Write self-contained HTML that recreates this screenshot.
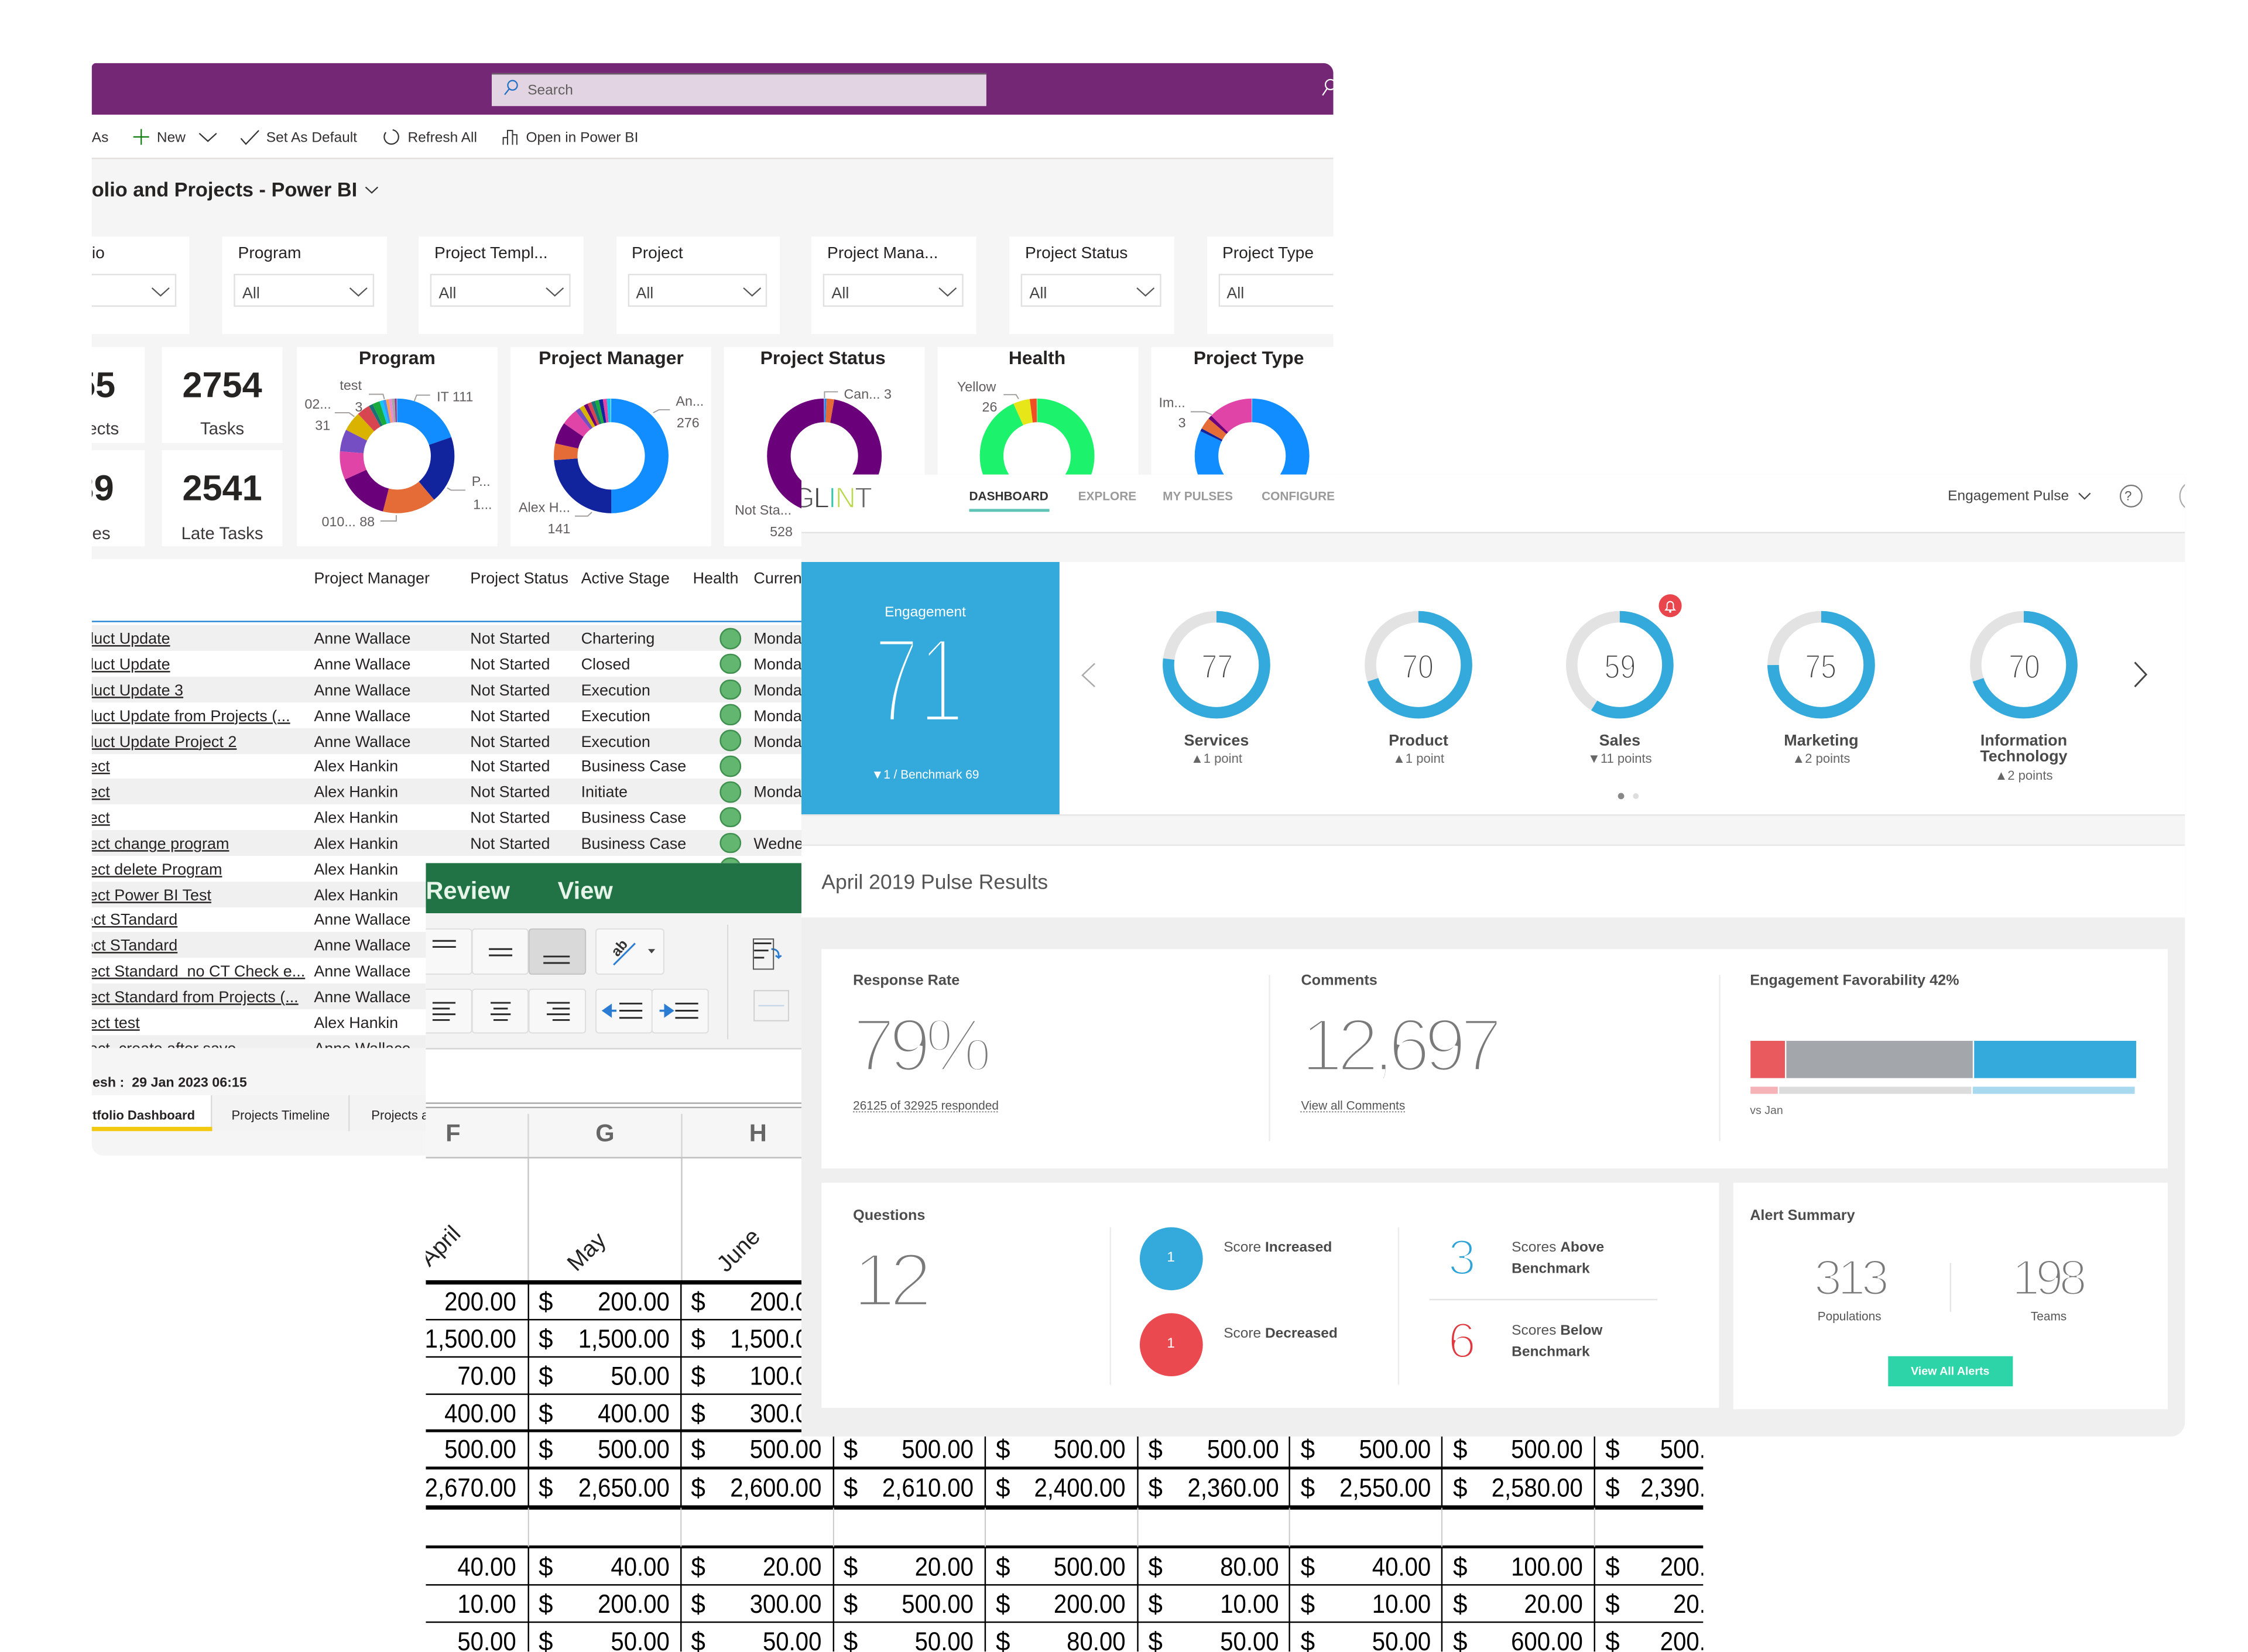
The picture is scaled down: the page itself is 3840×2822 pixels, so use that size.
<!DOCTYPE html>
<html><head><meta charset="utf-8">
<style>
html,body{margin:0;padding:0;background:#fff;}
body{width:3840px;height:2820px;overflow:hidden;position:relative;font-family:"Liberation Sans",Arial,sans-serif;}
#c{position:absolute;left:0;top:0;width:1568px;height:1152px;transform:scale(2.44898);transform-origin:0 0;}
.a{position:absolute;}
.t{position:absolute;white-space:nowrap;line-height:1;}
.d{margin-top:.15em}
svg.o{position:absolute;left:0;top:0;overflow:visible}
.card{position:absolute;background:#fff;}
.sl{position:absolute;top:169.9px;font-size:11.5px;color:#252423;white-space:nowrap;line-height:1;margin-top:.15em}
.dd{position:absolute;top:191px;width:97.5px;height:23px;border:1px solid #e1e1e1;box-sizing:border-box;background:#fff}
.all{position:absolute;top:198.2px;font-size:11px;color:#444;line-height:1;margin-top:.15em}
.dt{position:absolute;top:242.5px;width:140px;text-align:center;font-size:13px;font-weight:bold;color:#252423;line-height:1;white-space:nowrap}
.lb{position:absolute;font-size:9.5px;color:#605e5c;line-height:1;white-space:nowrap;margin-top:.1em}
.tr{position:absolute;left:0;width:1568px;height:17.83px;font-size:11px;color:#252423;line-height:1}
.tr span{position:absolute;top:4.9px;white-space:nowrap}
.tr span.u{text-decoration:underline}
.tr span.h{top:1.6px;width:14.6px;height:14.6px;border-radius:50%;background:#62b66f;border:0.8px solid #3f8f4f;box-sizing:border-box}
.xr{position:absolute;left:262px;height:18px;display:flex;font-size:18px;line-height:1;color:#000;white-space:nowrap}
.xr i{font-style:normal;position:relative;width:106.3px;flex:none;text-align:right;padding-right:8px;box-sizing:border-box}
.xr i.l{padding-right:11px}
.xr i b{font-weight:normal;position:absolute;left:7.4px;top:0}
.xr i em{font-style:normal;display:inline-block;transform:scaleX(.91);transform-origin:100% 50%}
.nav{position:absolute;top:341.8px;font-size:8.5px;font-weight:bold;color:#9a9a9a;line-height:1;white-space:nowrap}
.rn{position:absolute;top:454px;width:60px;text-align:center;font-size:23.3px;color:#444;line-height:1;transform:scaleX(.85);-webkit-text-stroke:1px #fff}
.rl{position:absolute;width:100px;text-align:center;line-height:1;white-space:nowrap;margin-top:.15em}
.gl{position:absolute;font-size:10.3px;font-weight:bold;color:#4d4d4d;line-height:1;white-space:nowrap;margin-top:.15em}
.big{position:absolute;font-size:52.4px;color:#7a7a7a;line-height:1;letter-spacing:-4px;white-space:nowrap;-webkit-text-stroke:2.6px #fff}
.sm{position:absolute;font-size:10px;color:#555;line-height:1;white-space:nowrap;margin-top:.15em}
.sm b{color:#4a4a4a}
</style></head><body><div id="c">

<!-- ================= POWER BI ================= -->
<div class="a" style="left:64px;top:44px;width:866px;height:762px;overflow:hidden;background:#f5f5f5;border-radius:3px 7px 0 8px;">
<div class="a" style="left:-64px;top:-44px;width:1568px;height:1152px;">
  <div class="a" style="left:64px;top:44px;width:866px;height:36px;background:#742774"></div>
  <div class="a" style="left:343px;top:51px;width:345px;height:22.5px;background:#e2d4e2;border-top:1px solid #6a5a6a;box-sizing:border-box"></div>
  <div class="t d" style="left:368px;top:57px;font-size:10px;color:#605e5c">Search</div>
  <div class="a" style="left:64px;top:80px;width:866px;height:31px;background:#fff;border-bottom:1px solid #e1dfdd;box-sizing:border-box"></div>
  <div class="t d" style="left:64px;top:90.7px;font-size:10px;color:#323130">As</div>
  <div class="t d" style="left:109.4px;top:90.7px;font-size:10px;color:#323130">New</div>
  <div class="t d" style="left:185.7px;top:90.7px;font-size:10px;color:#323130">Set As Default</div>
  <div class="t d" style="left:284.4px;top:90.7px;font-size:10px;color:#323130">Refresh All</div>
  <div class="t d" style="left:366.9px;top:90.7px;font-size:10px;color:#323130">Open in Power BI</div>
  <div class="t" style="left:64px;top:125px;font-size:14px;font-weight:bold;color:#252423">olio and Projects - Power BI</div>

  <!-- slicers -->
  <div class="card" style="left:17px;top:165px;width:114.5px;height:68px"></div>
  <div class="card" style="left:155px;top:165px;width:114.5px;height:68px"></div>
  <div class="card" style="left:292px;top:165px;width:114.5px;height:68px"></div>
  <div class="card" style="left:429.6px;top:165px;width:114.5px;height:68px"></div>
  <div class="card" style="left:566px;top:165px;width:114.5px;height:68px"></div>
  <div class="card" style="left:704px;top:165px;width:114.5px;height:68px"></div>
  <div class="card" style="left:841.6px;top:165px;width:114.5px;height:68px"></div>
  <div class="sl" style="left:30.8px">Portfolio</div>
  <div class="sl" style="left:166px">Program</div>
  <div class="sl" style="left:303px">Project Templ...</div>
  <div class="sl" style="left:440.6px">Project</div>
  <div class="sl" style="left:577px">Project Mana...</div>
  <div class="sl" style="left:715px">Project Status</div>
  <div class="sl" style="left:852.6px">Project Type</div>
  <div class="dd" style="left:25px"></div>
  <div class="dd" style="left:163px"></div>
  <div class="dd" style="left:300px"></div>
  <div class="dd" style="left:437.6px"></div>
  <div class="dd" style="left:574px"></div>
  <div class="dd" style="left:712px"></div>
  <div class="dd" style="left:849.6px"></div>
  <div class="all" style="left:169px">All</div>
  <div class="all" style="left:306px">All</div>
  <div class="all" style="left:443.6px">All</div>
  <div class="all" style="left:580px">All</div>
  <div class="all" style="left:718px">All</div>
  <div class="all" style="left:855.6px">All</div>

  <!-- KPI cards -->
  <div class="card" style="left:17.8px;top:241.6px;width:83.2px;height:67.4px"></div>
  <div class="card" style="left:17.8px;top:314px;width:83.2px;height:67.4px"></div>
  <div class="card" style="left:113.4px;top:241.6px;width:83.2px;height:67.4px"></div>
  <div class="card" style="left:113.4px;top:314px;width:83.2px;height:67.4px"></div>
  <div class="t" style="left:0;width:80.5px;text-align:right;top:256.5px;font-size:25px;font-weight:bold;color:#252423">55</div>
  <div class="t d" style="left:0;width:83px;text-align:right;top:291.4px;font-size:12px;color:#3b3a39">Projects</div>
  <div class="t" style="left:0;width:79.5px;text-align:right;top:328.5px;font-size:25px;font-weight:bold;color:#252423">39</div>
  <div class="t d" style="left:0;width:77px;text-align:right;top:364.2px;font-size:12px;color:#3b3a39">Milestones</div>
  <div class="t" style="left:113.4px;width:83.2px;text-align:center;top:256.5px;font-size:25px;font-weight:bold;color:#252423">2754</div>
  <div class="t d" style="left:113.4px;width:83.2px;text-align:center;top:291.4px;font-size:12px;color:#3b3a39">Tasks</div>
  <div class="t" style="left:113.4px;width:83.2px;text-align:center;top:328.5px;font-size:25px;font-weight:bold;color:#252423">2541</div>
  <div class="t d" style="left:113.4px;width:83.2px;text-align:center;top:364.2px;font-size:12px;color:#3b3a39">Late Tasks</div>

  <!-- donut cards -->
  <div class="card" style="left:207.2px;top:241.6px;width:140px;height:139.8px"></div>
  <div class="card" style="left:356px;top:241.6px;width:140px;height:139.8px"></div>
  <div class="card" style="left:504.8px;top:241.6px;width:140px;height:139.8px"></div>
  <div class="card" style="left:654.2px;top:241.6px;width:140px;height:139.8px"></div>
  <div class="card" style="left:803px;top:241.6px;width:140px;height:139.8px"></div>
  <div class="dt" style="left:207px">Program</div>
  <div class="dt" style="left:356.3px">Project Manager</div>
  <div class="dt" style="left:504px">Project Status</div>
  <div class="dt" style="left:653.4px">Health</div>
  <div class="dt" style="left:801px">Project Type</div>

  <div class="lb" style="left:237px;top:263.8px">test</div>
  <div class="lb" style="left:247.6px;top:278.8px">3</div>
  <div class="lb" style="left:212.5px;top:277.4px">02...</div>
  <div class="lb" style="left:219.8px;top:291.7px">31</div>
  <div class="lb" style="left:304.7px;top:272px">IT 111</div>
  <div class="lb" style="left:329px;top:331px">P...</div>
  <div class="lb" style="left:330px;top:346.8px">1...</div>
  <div class="lb" style="left:224.4px;top:359.1px">010... 88</div>
  <div class="lb" style="left:471.4px;top:275.4px">An...</div>
  <div class="lb" style="left:472px;top:289.7px">276</div>
  <div class="lb" style="left:361.8px;top:348.9px">Alex H...</div>
  <div class="lb" style="left:382px;top:364.5px">141</div>
  <div class="lb" style="left:588.6px;top:270px">Can... 3</div>
  <div class="lb" style="left:512.5px;top:351px">Not Sta...</div>
  <div class="lb" style="left:537px;top:365.9px">528</div>
  <div class="lb" style="left:667.6px;top:265.2px">Yellow</div>
  <div class="lb" style="left:685px;top:279.5px">26</div>
  <div class="lb" style="left:808.3px;top:276px">Im...</div>
  <div class="lb" style="left:821.8px;top:290.4px">3</div>

  <svg class="o" width="1568" height="1152" viewBox="0 0 1568 1152">
    <g fill="none" stroke-width="0.9">
      <circle cx="357.5" cy="59.5" r="3.3" stroke="#1f6fc5"/><line x1="355.2" y1="62" x2="352" y2="66" stroke="#1f6fc5"/>
      <circle cx="928" cy="59" r="3.5" stroke="#fff"/><line x1="925.5" y1="62" x2="922.5" y2="66.5" stroke="#fff"/>
      <line x1="98.5" y1="90" x2="98.5" y2="101" stroke="#107c10"/><line x1="93" y1="95.5" x2="104" y2="95.5" stroke="#107c10"/>
      <polyline points="139,93 145,98.5 151,93" stroke="#333"/>
      <polyline points="168,96.5 171.5,100.5 180.5,91" stroke="#333"/>
      <circle cx="273" cy="95.5" r="5" stroke="#333" stroke-dasharray="26 5.4" transform="rotate(-80 273 95.5)"/>
      <path d="M351,101 v-5 h3 v5 M354,101 v-10 h3.5 v10 M357.5,101 v-7 h3 v7" stroke="#333" stroke-width="0.8"/>
      <polyline points="255,130.5 259.3,134.5 263.5,130.5" stroke="#333"/>
      <g stroke="#555">
        <polyline points="106,200.8 112,206.3 118,200.8"/>
        <polyline points="244,200.8 250,206.3 256,200.8"/>
        <polyline points="381,200.8 387,206.3 393,200.8"/>
        <polyline points="518.6,200.8 524.6,206.3 530.6,200.8"/>
        <polyline points="655,200.8 661,206.3 667,200.8"/>
        <polyline points="793,200.8 799,206.3 805,200.8"/>
      </g>
      <g stroke="#a19f9d" stroke-width="0.8">
        <polyline points="257.3,275 267.2,275 268.1,278.4"/>
        <polyline points="289,279.7 290.6,275.6 300,275.6"/>
        <polyline points="233.5,287.9 243.5,287.9 247.2,290.6"/>
        <polyline points="311.9,340.3 314.6,341.9 324.6,341.9"/>
        <polyline points="265.4,363.4 276.4,363.4 276.4,359.3"/>
        <polyline points="455.6,287.9 459.7,285.8 467.3,285.8"/>
        <polyline points="401,360 409.9,360 412.8,357.3"/>
        <polyline points="575.1,277.7 575.1,273.3 584.5,273.3"/>
        <polyline points="700,275.3 708.7,275.3 710.5,278.3"/>
        <polyline points="830.5,287.2 840.6,287.2 845.2,289.2"/>
      </g>
    </g>
    <!-- Program donut -->
    <g fill="none" stroke-width="16.5" transform="rotate(-90 277 318)">
      <circle cx="277" cy="318" r="31.75" pathLength="360" stroke="#118dff" stroke-dasharray="71 400" stroke-dashoffset="0"/>
      <circle cx="277" cy="318" r="31.75" pathLength="360" stroke="#12239e" stroke-dasharray="69 400" stroke-dashoffset="-71"/>
      <circle cx="277" cy="318" r="31.75" pathLength="360" stroke="#e66c37" stroke-dasharray="54.6 400" stroke-dashoffset="-140"/>
      <circle cx="277" cy="318" r="31.75" pathLength="360" stroke="#6b007b" stroke-dasharray="51.4 400" stroke-dashoffset="-194.6"/>
      <circle cx="277" cy="318" r="31.75" pathLength="360" stroke="#e044a7" stroke-dasharray="29 400" stroke-dashoffset="-246"/>
      <circle cx="277" cy="318" r="31.75" pathLength="360" stroke="#744ec2" stroke-dasharray="22.4 400" stroke-dashoffset="-275"/>
      <circle cx="277" cy="318" r="31.75" pathLength="360" stroke="#d9b300" stroke-dasharray="20.1 400" stroke-dashoffset="-297.4"/>
      <circle cx="277" cy="318" r="31.75" pathLength="360" stroke="#d64550" stroke-dasharray="13.5 400" stroke-dashoffset="-317.5"/>
      <circle cx="277" cy="318" r="31.75" pathLength="360" stroke="#197278" stroke-dasharray="4 400" stroke-dashoffset="-331"/>
      <circle cx="277" cy="318" r="31.75" pathLength="360" stroke="#1aab40" stroke-dasharray="7.5 400" stroke-dashoffset="-335"/>
      <circle cx="277" cy="318" r="31.75" pathLength="360" stroke="#15c6f4" stroke-dasharray="3.5 400" stroke-dashoffset="-342.5"/>
      <circle cx="277" cy="318" r="31.75" pathLength="360" stroke="#4092ff" stroke-dasharray="3 400" stroke-dashoffset="-346"/>
      <circle cx="277" cy="318" r="31.75" pathLength="360" stroke="#ffa058" stroke-dasharray="3 400" stroke-dashoffset="-349"/>
      <circle cx="277" cy="318" r="31.75" pathLength="360" stroke="#e88fd4" stroke-dasharray="3 400" stroke-dashoffset="-352"/>
      <circle cx="277" cy="318" r="31.75" pathLength="360" stroke="#a6a6a6" stroke-dasharray="3 400" stroke-dashoffset="-355"/>
      <circle cx="277" cy="318" r="31.75" pathLength="360" stroke="#8b3a8b" stroke-dasharray="2 400" stroke-dashoffset="-358"/>
    </g>
    <!-- PM donut -->
    <g fill="none" stroke-width="16.5" transform="rotate(-90 426.3 318)">
      <circle cx="426.3" cy="318" r="31.75" pathLength="360" stroke="#118dff" stroke-dasharray="180 400" stroke-dashoffset="0"/>
      <circle cx="426.3" cy="318" r="31.75" pathLength="360" stroke="#12239e" stroke-dasharray="86 400" stroke-dashoffset="-180"/>
      <circle cx="426.3" cy="318" r="31.75" pathLength="360" stroke="#e66c37" stroke-dasharray="17 400" stroke-dashoffset="-266"/>
      <circle cx="426.3" cy="318" r="31.75" pathLength="360" stroke="#6b007b" stroke-dasharray="22 400" stroke-dashoffset="-283"/>
      <circle cx="426.3" cy="318" r="31.75" pathLength="360" stroke="#e044a7" stroke-dasharray="17 400" stroke-dashoffset="-305"/>
      <circle cx="426.3" cy="318" r="31.75" pathLength="360" stroke="#744ec2" stroke-dasharray="5 400" stroke-dashoffset="-322"/>
      <circle cx="426.3" cy="318" r="31.75" pathLength="360" stroke="#d9b300" stroke-dasharray="5 400" stroke-dashoffset="-327"/>
      <circle cx="426.3" cy="318" r="31.75" pathLength="360" stroke="#6b007b" stroke-dasharray="4 400" stroke-dashoffset="-332"/>
      <circle cx="426.3" cy="318" r="31.75" pathLength="360" stroke="#d64550" stroke-dasharray="4 400" stroke-dashoffset="-336"/>
      <circle cx="426.3" cy="318" r="31.75" pathLength="360" stroke="#197278" stroke-dasharray="4 400" stroke-dashoffset="-340"/>
      <circle cx="426.3" cy="318" r="31.75" pathLength="360" stroke="#1aab40" stroke-dasharray="4 400" stroke-dashoffset="-344"/>
      <circle cx="426.3" cy="318" r="31.75" pathLength="360" stroke="#12239e" stroke-dasharray="4 400" stroke-dashoffset="-348"/>
      <circle cx="426.3" cy="318" r="31.75" pathLength="360" stroke="#e044a7" stroke-dasharray="4 400" stroke-dashoffset="-352"/>
      <circle cx="426.3" cy="318" r="31.75" pathLength="360" stroke="#15c6f4" stroke-dasharray="4 400" stroke-dashoffset="-356"/>
    </g>
    <!-- PS donut -->
    <g fill="none" stroke-width="16.5" transform="rotate(-90 575 318)">
      <circle cx="575" cy="318" r="31.75" pathLength="360" stroke="#6b007b" stroke-dasharray="350 400" stroke-dashoffset="-10"/>
      <circle cx="575" cy="318" r="31.75" pathLength="360" stroke="#118dff" stroke-dasharray="2 400" stroke-dashoffset="0"/>
      <circle cx="575" cy="318" r="31.75" pathLength="360" stroke="#e66c37" stroke-dasharray="8 400" stroke-dashoffset="-2"/>
    </g>
    <!-- Health donut -->
    <g fill="none" stroke-width="16.5" transform="rotate(-90 723.4 318)">
      <circle cx="723.4" cy="318" r="31.75" pathLength="360" stroke="#1df26c" stroke-dasharray="336 400" stroke-dashoffset="0"/>
      <circle cx="723.4" cy="318" r="31.75" pathLength="360" stroke="#e6e619" stroke-dasharray="17 400" stroke-dashoffset="-336"/>
      <circle cx="723.4" cy="318" r="31.75" pathLength="360" stroke="#f04e23" stroke-dasharray="7 400" stroke-dashoffset="-353"/>
    </g>
    <!-- PT donut -->
    <g fill="none" stroke-width="16.5" transform="rotate(-90 873.3 318)">
      <circle cx="873.3" cy="318" r="31.75" pathLength="360" stroke="#118dff" stroke-dasharray="296 400" stroke-dashoffset="0"/>
      <circle cx="873.3" cy="318" r="31.75" pathLength="360" stroke="#12239e" stroke-dasharray="3 400" stroke-dashoffset="-296"/>
      <circle cx="873.3" cy="318" r="31.75" pathLength="360" stroke="#e66c37" stroke-dasharray="12 400" stroke-dashoffset="-299"/>
      <circle cx="873.3" cy="318" r="31.75" pathLength="360" stroke="#6b007b" stroke-dasharray="4 400" stroke-dashoffset="-311"/>
      <circle cx="873.3" cy="318" r="31.75" pathLength="360" stroke="#e044a7" stroke-dasharray="45 400" stroke-dashoffset="-315"/>
    </g>
  </svg>

  <!-- table -->
  <div class="a" style="left:64px;top:390px;width:495.4px;height:341px;overflow:hidden;background:#fff">
  <div class="a" style="left:-64px;top:-390px;width:1568px;height:1152px">
    <div class="t" style="left:219px;top:399.4px;font-size:11px;color:#252423">Project Manager</div>
    <div class="t" style="left:328px;top:399.4px;font-size:11px;color:#252423">Project Status</div>
    <div class="t" style="left:405.3px;top:399.4px;font-size:11px;color:#252423">Active Stage</div>
    <div class="t" style="left:483.3px;top:399.4px;font-size:11px;color:#252423">Health</div>
    <div class="t" style="left:525.7px;top:399.4px;font-size:11px;color:#252423">Current</div>
    <div class="a" style="left:64px;top:432.9px;width:500px;height:1.5px;background:#2b88d8"></div>

    <div class="tr" style="top:436.4px;background:#f0f0f0"><span class="u" style="left:63px">luct Update</span><span style="left:219px">Anne Wallace</span><span style="left:328px">Not Started</span><span style="left:405.3px">Chartering</span><span class="h" style="left:502.1px"></span><span style="left:525.7px">Monday</span></div>
    <div class="tr" style="top:454.2px"><span class="u" style="left:63px">luct Update</span><span style="left:219px">Anne Wallace</span><span style="left:328px">Not Started</span><span style="left:405.3px">Closed</span><span class="h" style="left:502.1px"></span><span style="left:525.7px">Monday</span></div>
    <div class="tr" style="top:472.1px;background:#f0f0f0"><span class="u" style="left:63px">luct Update 3</span><span style="left:219px">Anne Wallace</span><span style="left:328px">Not Started</span><span style="left:405.3px">Execution</span><span class="h" style="left:502.1px"></span><span style="left:525.7px">Monday</span></div>
    <div class="tr" style="top:489.9px"><span class="u" style="left:63px">luct Update from Projects (...</span><span style="left:219px">Anne Wallace</span><span style="left:328px">Not Started</span><span style="left:405.3px">Execution</span><span class="h" style="left:502.1px"></span><span style="left:525.7px">Monday</span></div>
    <div class="tr" style="top:507.7px;background:#f0f0f0"><span class="u" style="left:63px">luct Update Project 2</span><span style="left:219px">Anne Wallace</span><span style="left:328px">Not Started</span><span style="left:405.3px">Execution</span><span class="h" style="left:502.1px"></span><span style="left:525.7px">Monday</span></div>
    <div class="tr" style="top:525.6px"><span class="u" style="left:62px">ect</span><span style="left:219px">Alex Hankin</span><span style="left:328px">Not Started</span><span style="left:405.3px">Business Case</span><span class="h" style="left:502.1px"></span></div>
    <div class="tr" style="top:543.4px;background:#f0f0f0"><span class="u" style="left:62px">ect</span><span style="left:219px">Alex Hankin</span><span style="left:328px">Not Started</span><span style="left:405.3px">Initiate</span><span class="h" style="left:502.1px"></span><span style="left:525.7px">Monday</span></div>
    <div class="tr" style="top:561.2px"><span class="u" style="left:62px">ect</span><span style="left:219px">Alex Hankin</span><span style="left:328px">Not Started</span><span style="left:405.3px">Business Case</span><span class="h" style="left:502.1px"></span></div>
    <div class="tr" style="top:579px;background:#f0f0f0"><span class="u" style="left:62px">ect change program</span><span style="left:219px">Alex Hankin</span><span style="left:328px">Not Started</span><span style="left:405.3px">Business Case</span><span class="h" style="left:502.1px"></span><span style="left:525.7px">Wednesday</span></div>
    <div class="tr" style="top:596.9px"><span class="u" style="left:62px">ect delete Program</span><span style="left:219px">Alex Hankin</span><span style="left:328px">Not Started</span><span style="left:405.3px">Business Case</span><span class="h" style="left:502.1px"></span></div>
    <div class="tr" style="top:614.7px;background:#f0f0f0"><span class="u" style="left:62px">ect Power BI Test</span><span style="left:219px">Alex Hankin</span></div>
    <div class="tr" style="top:632.5px"><span class="u" style="left:59px">ect STandard</span><span style="left:219px">Anne Wallace</span></div>
    <div class="tr" style="top:650.4px;background:#f0f0f0"><span class="u" style="left:59px">ect STandard</span><span style="left:219px">Anne Wallace</span></div>
    <div class="tr" style="top:668.2px"><span class="u" style="left:62px">ect Standard&nbsp; no CT Check e...</span><span style="left:219px">Anne Wallace</span></div>
    <div class="tr" style="top:686px;background:#f0f0f0"><span class="u" style="left:62px">ect Standard from Projects (...</span><span style="left:219px">Anne Wallace</span></div>
    <div class="tr" style="top:703.9px"><span class="u" style="left:62px">ect test</span><span style="left:219px">Alex Hankin</span></div>
    <div class="tr" style="top:721.7px;background:#f0f0f0"><span class="u" style="left:62px">ect&nbsp; create after save</span><span style="left:219px">Anne Wallace</span></div>
  </div></div>

  <div class="t d" style="left:64.5px;top:749.8px;font-size:9.5px;font-weight:bold;color:#252423">esh :&nbsp; 29 Jan 2023 06:15</div>
  <div class="a" style="left:64px;top:763.8px;width:83.5px;height:25.2px;background:#fff;border-right:1px solid #dcdcdc;box-sizing:border-box"></div>
  <div class="a" style="left:147.5px;top:763.8px;width:96.5px;height:25.2px;background:#f3f3f3;border-right:1px solid #dcdcdc;box-sizing:border-box"></div>
  <div class="a" style="left:244px;top:763.8px;width:80px;height:25.2px;background:#f3f3f3"></div>
  <div class="a" style="left:64px;top:786px;width:83.5px;height:3px;background:#f2c811"></div>
  <div class="t d" style="left:64.5px;top:772.5px;font-size:9px;font-weight:bold;color:#252423">tfolio Dashboard</div>
  <div class="t d" style="left:147.5px;width:96.5px;text-align:center;top:772.5px;font-size:9px;color:#252423">Projects Timeline</div>
  <div class="t d" style="left:259px;top:772.5px;font-size:9px;color:#252423">Projects and Tasks</div>
</div></div>

<!-- ================= EXCEL ================= -->
<div class="a" style="left:297px;top:601.5px;width:891px;height:551px;overflow:hidden;background:#fff">
<div class="a" style="left:-297px;top:-601.5px;width:1568px;height:1152px">
  <div class="a" style="left:297px;top:601.5px;width:891px;height:35.5px;background:#217346"></div>
  <div class="t" style="left:297px;top:613.2px;font-size:17px;font-weight:bold;color:#e6f4ea">Review</div>
  <div class="t" style="left:389px;top:613.2px;font-size:17px;font-weight:bold;color:#e6f4ea">View</div>
  <div class="a" style="left:297px;top:637px;width:891px;height:95px;background:#f3f3f3;border-bottom:1px solid #d4d4d4;box-sizing:border-box"></div>
  <div class="a" style="left:297px;top:769px;width:891px;height:1px;background:#a8a8a8"></div>
  <div class="a" style="left:297px;top:771.5px;width:891px;height:1px;background:#a8a8a8"></div>
  <div class="a" style="left:297px;top:773px;width:891px;height:33.5px;background:#f6f6f6"></div>
  <div class="a" style="left:297px;top:806.5px;width:891px;height:1.2px;background:#bdbdbd"></div>
  <div class="a" style="left:368.3px;top:777px;width:1px;height:30px;background:#d6d6d6"></div>
  <div class="a" style="left:474.5px;top:777px;width:1px;height:30px;background:#d6d6d6"></div>
  <div class="t" style="left:266px;width:100px;text-align:center;top:782.2px;font-size:17px;font-weight:bold;color:#666">F</div>
  <div class="t" style="left:372px;width:100px;text-align:center;top:782.2px;font-size:17px;font-weight:bold;color:#666">G</div>
  <div class="t" style="left:478.7px;width:100px;text-align:center;top:782.2px;font-size:17px;font-weight:bold;color:#666">H</div>
  <div class="a" style="left:368.3px;top:808px;width:1px;height:86px;background:#c8c8c8"></div>
  <div class="a" style="left:474.5px;top:808px;width:1px;height:86px;background:#c8c8c8"></div>
  <div class="t" style="left:308px;top:870px;font-size:16px;color:#222;transform:translate(-50%,-50%) rotate(-45deg)">April</div>
  <div class="t" style="left:410px;top:873.7px;font-size:16px;color:#222;transform:translate(-50%,-50%) rotate(-45deg)">May</div>
  <div class="t" style="left:516.3px;top:873px;font-size:16px;color:#222;transform:translate(-50%,-50%) rotate(-45deg)">June</div>

  <svg class="o" width="1568" height="1152" viewBox="0 0 1568 1152">
    <g fill="#f8f8f8" stroke="#dedede" stroke-width="0.8">
      <rect x="290" y="648" width="39" height="31.5" rx="2"/>
      <rect x="329.4" y="648" width="38.9" height="31.5" rx="2"/>
      <rect x="369" y="648" width="39.4" height="31.5" rx="2" fill="#d9d9d9" stroke="#c4c4c4"/>
      <rect x="415.7" y="648" width="47.3" height="31.5" rx="2"/>
      <rect x="290" y="690" width="39" height="30.5" rx="2"/>
      <rect x="329.4" y="690" width="38.9" height="30.5" rx="2"/>
      <rect x="369" y="690" width="39.4" height="30.5" rx="2"/>
      <rect x="415.7" y="690" width="39.1" height="30.5" rx="2"/>
      <rect x="454.8" y="690" width="39.2" height="30.5" rx="2"/>
    </g>
    <g stroke="#2a2a2a" stroke-width="1.2">
      <line x1="301.7" y1="656.3" x2="318" y2="656.3"/><line x1="301.7" y1="660.5" x2="318" y2="660.5"/>
      <line x1="341" y1="662" x2="357.3" y2="662"/><line x1="341" y1="666.4" x2="357.3" y2="666.4"/>
      <line x1="379" y1="667.2" x2="397.4" y2="667.2"/><line x1="379" y1="671.7" x2="397.4" y2="671.7"/>
      <line x1="301.7" y1="699.5" x2="317.7" y2="699.5"/><line x1="301.7" y1="703.5" x2="313.7" y2="703.5"/><line x1="301.7" y1="707.5" x2="317.7" y2="707.5"/><line x1="301.7" y1="711.5" x2="313.7" y2="711.5"/>
      <line x1="342.2" y1="699.5" x2="356.2" y2="699.5"/><line x1="344.2" y1="703.5" x2="354.2" y2="703.5"/><line x1="342.2" y1="707.5" x2="356.2" y2="707.5"/><line x1="344.2" y1="711.5" x2="354.2" y2="711.5"/>
      <line x1="381.4" y1="699.5" x2="397.4" y2="699.5"/><line x1="385.4" y1="703.5" x2="397.4" y2="703.5"/><line x1="381.4" y1="707.5" x2="397.4" y2="707.5"/><line x1="385.4" y1="711.5" x2="397.4" y2="711.5"/>
      <line x1="432" y1="700" x2="448" y2="700"/><line x1="432" y1="705" x2="448" y2="705"/><line x1="432" y1="710" x2="448" y2="710"/>
      <line x1="471" y1="700" x2="487" y2="700"/><line x1="471" y1="705" x2="487" y2="705"/><line x1="471" y1="710" x2="487" y2="710"/>
      <line x1="526" y1="658" x2="538" y2="658"/><line x1="526" y1="663" x2="536" y2="663"/><line x1="526" y1="668" x2="533" y2="668"/>
    </g>
    <path d="M421,705 l5,-3.5 v7 z M426,705 h4" stroke="#2b7cd3" fill="#2b7cd3" stroke-width="1.5"/>
    <path d="M469,705 l-5,-3.5 v7 z M464,705 h-4" stroke="#2b7cd3" fill="#2b7cd3" stroke-width="1.5"/>
    <line x1="428" y1="673" x2="443" y2="658" stroke="#2b7cd3" stroke-width="1.2"/>
    <path d="M452,662 h5 l-2.5,3 z" fill="#444"/>
    <path d="M538,662 q6,0 5,6 l-2,-1.5 M543,668 l2,-1.5" stroke="#2b7cd3" fill="none" stroke-width="1.2"/>
    <rect x="525.5" y="655" width="14" height="21" fill="none" stroke="#555" stroke-width="0.8"/>
    <rect x="526" y="691" width="24" height="21" fill="none" stroke="#cfcfcf" stroke-width="0.8"/>
    <line x1="529" y1="701.5" x2="547" y2="701.5" stroke="#c8d8ec" stroke-width="1"/>
    <line x1="507.6" y1="645" x2="507.6" y2="725" stroke="#d8d8d8" stroke-width="0.8"/>
  </svg>
  <div class="t" style="left:433px;top:662px;font-size:10px;font-weight:bold;color:#333;transform:translate(-50%,-50%) rotate(-50deg)">ab</div>

  <!-- grid lines -->
  <div class="a" style="left:297px;top:893px;width:891px;height:2.6px;background:#000"></div>
  <div class="a" style="left:297px;top:919.7px;width:891px;height:1.4px;background:#000"></div>
  <div class="a" style="left:297px;top:945.8px;width:891px;height:1.4px;background:#000"></div>
  <div class="a" style="left:297px;top:971.9px;width:891px;height:1.4px;background:#000"></div>
  <div class="a" style="left:297px;top:997.3px;width:891px;height:1.4px;background:#000"></div>
  <div class="a" style="left:297px;top:1022.7px;width:891px;height:2.6px;background:#000"></div>
  <div class="a" style="left:297px;top:1050.4px;width:891px;height:2.6px;background:#000"></div>
  <div class="a" style="left:297px;top:1077.7px;width:891px;height:2.4px;background:#000"></div>
  <div class="a" style="left:297px;top:1105.1px;width:891px;height:1.4px;background:#000"></div>
  <div class="a" style="left:297px;top:1130.9px;width:891px;height:1.4px;background:#000"></div>
  <svg class="o" width="1568" height="1152" viewBox="0 0 1568 1152">
    <g stroke="#000" stroke-width="1">
      <path d="M368.6,895V1051.7M475,895V1051.7M581.4,895V1051.7M687.2,895V1051.7M793.6,895V1051.7M899.4,895V1051.7M1005.7,895V1051.7M1112.2,895V1051.7"/>
      <path d="M368.6,1078.9V1152M475,1078.9V1152M581.4,1078.9V1152M687.2,1078.9V1152M793.6,1078.9V1152M899.4,1078.9V1152M1005.7,1078.9V1152M1112.2,1078.9V1152"/>
    </g>
    <path stroke="#c8c8c8" stroke-width="0.8" d="M368.6,1051.7V1078.9M475,1051.7V1078.9M581.4,1051.7V1078.9M687.2,1051.7V1078.9M793.6,1051.7V1078.9M899.4,1051.7V1078.9M1005.7,1051.7V1078.9M1112.2,1051.7V1078.9"/>
  </svg>

  <div class="xr" style="top:899.2px"><i><b>$</b><em>200.00</em></i><i><b>$</b><em>200.00</em></i><i><b>$</b><em>200.00</em></i></div>
  <div class="xr" style="top:924.7px"><i><b>$</b><em>1,500.00</em></i><i><b>$</b><em>1,500.00</em></i><i><b>$</b><em>1,500.00</em></i></div>
  <div class="xr" style="top:950.7px"><i><b>$</b><em>70.00</em></i><i><b>$</b><em>50.00</em></i><i><b>$</b><em>100.00</em></i></div>
  <div class="xr" style="top:976.5px"><i><b>$</b><em>400.00</em></i><i><b>$</b><em>400.00</em></i><i><b>$</b><em>300.00</em></i></div>
  <div class="xr" style="top:1002.2px"><i><b>$</b><em>500.00</em></i><i><b>$</b><em>500.00</em></i><i><b>$</b><em>500.00</em></i><i><b>$</b><em>500.00</em></i><i><b>$</b><em>500.00</em></i><i><b>$</b><em>500.00</em></i><i><b>$</b><em>500.00</em></i><i><b>$</b><em>500.00</em></i><i class="l"><b>$</b><em>500.00</em></i></div>
  <div class="xr" style="top:1029.1px"><i><b>$</b><em>2,670.00</em></i><i><b>$</b><em>2,650.00</em></i><i><b>$</b><em>2,600.00</em></i><i><b>$</b><em>2,610.00</em></i><i><b>$</b><em>2,400.00</em></i><i><b>$</b><em>2,360.00</em></i><i><b>$</b><em>2,550.00</em></i><i><b>$</b><em>2,580.00</em></i><i class="l"><b>$</b><em>2,390.00</em></i></div>
  <div class="xr" style="top:1083.5px"><i><b>$</b><em>40.00</em></i><i><b>$</b><em>40.00</em></i><i><b>$</b><em>20.00</em></i><i><b>$</b><em>20.00</em></i><i><b>$</b><em>500.00</em></i><i><b>$</b><em>80.00</em></i><i><b>$</b><em>40.00</em></i><i><b>$</b><em>100.00</em></i><i class="l"><b>$</b><em>200.00</em></i></div>
  <div class="xr" style="top:1109.9px"><i><b>$</b><em>10.00</em></i><i><b>$</b><em>200.00</em></i><i><b>$</b><em>300.00</em></i><i><b>$</b><em>500.00</em></i><i><b>$</b><em>200.00</em></i><i><b>$</b><em>10.00</em></i><i><b>$</b><em>10.00</em></i><i><b>$</b><em>20.00</em></i><i class="l"><b>$</b><em>20.00</em></i></div>
  <div class="xr" style="top:1135.8px"><i><b>$</b><em>50.00</em></i><i><b>$</b><em>50.00</em></i><i><b>$</b><em>50.00</em></i><i><b>$</b><em>50.00</em></i><i><b>$</b><em>80.00</em></i><i><b>$</b><em>50.00</em></i><i><b>$</b><em>50.00</em></i><i><b>$</b><em>600.00</em></i><i class="l"><b>$</b><em>200.00</em></i></div>
</div></div>

<!-- ================= GLINT ================= -->
<div class="a" style="left:559.4px;top:331.4px;width:964.6px;height:670.6px;overflow:hidden;background:#efefef;border-radius:0 0 10px 0">
<div class="a" style="left:-559.4px;top:-331.4px;width:1568px;height:1152px">
  <div class="a" style="left:559.4px;top:331.4px;width:965px;height:39.6px;background:#fff"></div>
  <div class="a" style="left:559.4px;top:371px;width:965px;height:1px;background:#e3e3e3"></div>
  <div class="a" style="left:559.4px;top:372px;width:965px;height:19.6px;background:#f5f5f5"></div>
  <div class="a" style="left:559.4px;top:391.6px;width:965px;height:176.2px;background:#fff"></div>
  <div class="a" style="left:550px;top:391.6px;width:189.4px;height:176.2px;background:#34aadc"></div>
  <div class="a" style="left:559.4px;top:567.8px;width:965px;height:1px;background:#e6e6e6"></div>
  <div class="a" style="left:559.4px;top:568.8px;width:965px;height:20.2px;background:#f5f5f5"></div>
  <div class="a" style="left:559.4px;top:589px;width:965px;height:51px;background:#fff;border-top:1px solid #e8e8e8;box-sizing:border-box"></div>

  <div class="t" style="left:552.7px;top:337.7px;font-size:20px;letter-spacing:-0.8px;-webkit-text-stroke:0.6px #fff"><span style="color:#555">G</span><span style="color:#3a3a3a">L</span><span style="color:#35c4b0">I</span><span style="color:#b9d94a">N</span><span style="color:#666">T</span></div>
  <div class="nav" style="left:676px;color:#333">DASHBOARD</div>
  <div class="a" style="left:676px;top:354.5px;width:56px;height:2px;background:#5ec4b6"></div>
  <div class="nav" style="left:752px">EXPLORE</div>
  <div class="nav" style="left:811px">MY PULSES</div>
  <div class="nav" style="left:880px">CONFIGURE</div>
  <div class="t d" style="left:1358.6px;top:340.7px;font-size:10px;color:#444">Engagement Pulse</div>
  <div class="t" style="left:1481.9px;top:341.8px;font-size:9px;color:#555">?</div>

  <div class="t d" style="left:545.4px;width:200px;text-align:center;top:421.5px;font-size:10px;color:#fff">Engagement</div>
  <div class="t" style="left:541.4px;width:200px;text-align:center;top:433.2px;font-size:85.5px;color:#fff;transform:scaleX(.66);-webkit-text-stroke:4.5px #34aadc">71</div>
  <div class="t d" style="left:545.4px;width:200px;text-align:center;top:534.9px;font-size:8.5px;color:#fff">▼1 / Benchmark 69</div>

  <svg class="o" width="1568" height="1152" viewBox="0 0 1568 1152">
    <polyline points="1450,344 1454,348 1458,344" fill="none" stroke="#444" stroke-width="0.9"/>
    <circle cx="1486.5" cy="346" r="7.5" fill="none" stroke="#777" stroke-width="0.9"/>
    <circle cx="1531" cy="346" r="10.5" fill="none" stroke="#aaa" stroke-width="0.9"/>
    <g fill="none" stroke-width="8">
      <circle cx="848.5" cy="463.7" r="33.5" stroke="#e3e3e3"/>
      <circle cx="989.4" cy="463.7" r="33.5" stroke="#e3e3e3"/>
      <circle cx="1129.8" cy="463.7" r="33.5" stroke="#e3e3e3"/>
      <circle cx="1270.3" cy="463.7" r="33.5" stroke="#e3e3e3"/>
      <circle cx="1411.6" cy="463.7" r="33.5" stroke="#e3e3e3"/>
      <circle cx="848.5" cy="463.7" r="33.5" stroke="#34aadc" pathLength="360" stroke-dasharray="277.2 400" transform="rotate(-90 848.5 463.7)"/>
      <circle cx="989.4" cy="463.7" r="33.5" stroke="#34aadc" pathLength="360" stroke-dasharray="252 400" transform="rotate(-90 989.4 463.7)"/>
      <circle cx="1129.8" cy="463.7" r="33.5" stroke="#34aadc" pathLength="360" stroke-dasharray="212.4 400" transform="rotate(-90 1129.8 463.7)"/>
      <circle cx="1270.3" cy="463.7" r="33.5" stroke="#34aadc" pathLength="360" stroke-dasharray="270 400" transform="rotate(-90 1270.3 463.7)"/>
      <circle cx="1411.6" cy="463.7" r="33.5" stroke="#34aadc" pathLength="360" stroke-dasharray="252 400" transform="rotate(-90 1411.6 463.7)"/>
    </g>
    <circle cx="1165" cy="422.5" r="8" fill="#e8464c"/>
    <path d="M1161.8,425.5 h6.4 l-1,-1.3 v-2.4 a2.2,2.2 0 0 0 -4.4,0 v2.4 z" fill="none" stroke="#fff" stroke-width="0.8"/>
    <circle cx="1165" cy="426.6" r="0.8" fill="#fff"/>
    <polyline points="763.6,462.8 755,471 763.6,479" fill="none" stroke="#aaa" stroke-width="1"/>
    <polyline points="1489,462 1497,470.5 1489,479" fill="none" stroke="#444" stroke-width="1.2"/>
    <circle cx="1130.7" cy="555.3" r="2.2" fill="#888"/>
    <circle cx="1141" cy="555.3" r="2" fill="#ddd"/>
  </svg>

  <div class="rn" style="left:818.5px">77</div>
  <div class="rn" style="left:959.4px">70</div>
  <div class="rn" style="left:1099.8px">59</div>
  <div class="rn" style="left:1240.3px">75</div>
  <div class="rn" style="left:1381.6px">70</div>
  <div class="rl" style="left:798.5px;top:510px;font-size:11px;font-weight:bold;color:#4a4a4a">Services</div>
  <div class="rl" style="left:798.5px;top:524px;font-size:9px;color:#666">▲1 point</div>
  <div class="rl" style="left:939.4px;top:510px;font-size:11px;font-weight:bold;color:#4a4a4a">Product</div>
  <div class="rl" style="left:939.4px;top:524px;font-size:9px;color:#666">▲1 point</div>
  <div class="rl" style="left:1079.8px;top:510px;font-size:11px;font-weight:bold;color:#4a4a4a">Sales</div>
  <div class="rl" style="left:1079.8px;top:524px;font-size:9px;color:#666">▼11 points</div>
  <div class="rl" style="left:1220.3px;top:510px;font-size:11px;font-weight:bold;color:#4a4a4a">Marketing</div>
  <div class="rl" style="left:1220.3px;top:524px;font-size:9px;color:#666">▲2 points</div>
  <div class="rl" style="left:1361.6px;top:510px;font-size:11px;font-weight:bold;color:#4a4a4a">Information</div>
  <div class="rl" style="left:1361.6px;top:521.7px;font-size:11px;font-weight:bold;color:#4a4a4a">Technology</div>
  <div class="rl" style="left:1361.6px;top:535.2px;font-size:9px;color:#666">▲2 points</div>

  <div class="t d" style="left:573px;top:607.1px;font-size:14.5px;color:#555">April 2019 Pulse Results</div>

  <div class="card" style="left:573px;top:662px;width:938.6px;height:153px"></div>
  <div class="card" style="left:573px;top:825px;width:625.5px;height:157px"></div>
  <div class="card" style="left:1208.7px;top:825px;width:302.9px;height:158px"></div>

  <div class="gl" style="left:595px;top:678.5px">Response Rate</div>
  <div class="big" style="left:595px;top:704.1px">79%</div>
  <div class="t d" style="left:595px;top:765.5px;font-size:8.5px;color:#555;text-decoration:underline dotted #999">26125 of 32925 responded</div>
  <div class="a" style="left:885px;top:680px;width:1px;height:116px;background:#ececec"></div>
  <div class="gl" style="left:907.5px;top:678.5px">Comments</div>
  <div class="big" style="left:907.5px;top:704.1px">12,697</div>
  <div class="t d" style="left:907.5px;top:765.5px;font-size:8.5px;color:#555;text-decoration:underline dotted #999">View all Comments</div>
  <div class="a" style="left:1198.5px;top:680px;width:1px;height:116px;background:#ececec"></div>
  <div class="gl" style="left:1220.6px;top:678.5px">Engagement Favorability 42%</div>
  <div class="a" style="left:1220.6px;top:726px;width:24.4px;height:26px;background:#e95a5f"></div>
  <div class="a" style="left:1246px;top:726px;width:130px;height:26px;background:#a3a7ab"></div>
  <div class="a" style="left:1377px;top:726px;width:112.5px;height:26px;background:#34aadc"></div>
  <div class="a" style="left:1220.6px;top:757.5px;width:19.4px;height:5px;background:#f5b3b8"></div>
  <div class="a" style="left:1240.6px;top:757.5px;width:134.4px;height:5px;background:#dcdcdc"></div>
  <div class="a" style="left:1375.6px;top:757.5px;width:113.9px;height:5px;background:#a9d9ef"></div>
  <div class="t d" style="left:1220.6px;top:769.8px;font-size:8px;color:#666">vs Jan</div>

  <div class="gl" style="left:595px;top:842.5px">Questions</div>
  <div class="big" style="left:595px;top:867px;font-size:53px">12</div>
  <div class="a" style="left:773.5px;top:856px;width:1px;height:110px;background:#ececec"></div>
  <div class="a" style="left:975px;top:856px;width:1px;height:110px;background:#ececec"></div>
  <div class="a" style="left:794.7px;top:855.6px;width:44px;height:44px;border-radius:50%;background:#34aadc"></div>
  <div class="a" style="left:794.7px;top:916px;width:44px;height:44px;border-radius:50%;background:#ea4a4f"></div>
  <div class="t" style="left:794.7px;width:44px;text-align:center;top:872.7px;font-size:10px;color:#fff">1</div>
  <div class="t" style="left:794.7px;width:44px;text-align:center;top:933.1px;font-size:10px;color:#fff">1</div>
  <div class="sm" style="left:853.5px;top:864.7px">Score <b>Increased</b></div>
  <div class="sm" style="left:853.5px;top:924.7px">Score <b>Decreased</b></div>
  <div class="t" style="left:1010px;top:860.4px;font-size:35px;color:#2ea3d8;-webkit-text-stroke:1.6px #fff">3</div>
  <div class="sm" style="left:1054.4px;top:864.7px">Scores <b>Above</b></div>
  <div class="sm" style="left:1054.4px;top:879.4px"><b>Benchmark</b></div>
  <div class="a" style="left:996.5px;top:906px;width:159px;height:1px;background:#e5e5e5"></div>
  <div class="t" style="left:1010px;top:918.4px;font-size:35px;color:#e0383e;-webkit-text-stroke:1.6px #fff">6</div>
  <div class="sm" style="left:1054.4px;top:922.7px">Scores <b>Below</b></div>
  <div class="sm" style="left:1054.4px;top:937.2px"><b>Benchmark</b></div>

  <div class="gl" style="left:1220.6px;top:842.5px">Alert Summary</div>
  <div class="t" style="left:1240px;width:100px;text-align:center;top:874.4px;font-size:35px;color:#7a7a7a;letter-spacing:-3px;-webkit-text-stroke:1.6px #fff">313</div>
  <div class="t" style="left:1378px;width:100px;text-align:center;top:874.4px;font-size:35px;color:#7a7a7a;letter-spacing:-3px;-webkit-text-stroke:1.6px #fff">198</div>
  <div class="a" style="left:1360px;top:880.6px;width:1px;height:34.4px;background:#e5e5e5"></div>
  <div class="t d" style="left:1240px;width:100px;text-align:center;top:913px;font-size:8.5px;color:#555">Populations</div>
  <div class="t d" style="left:1379px;width:100px;text-align:center;top:913px;font-size:8.5px;color:#555">Teams</div>
  <div class="a" style="left:1317px;top:946px;width:86.5px;height:21px;background:#2cd4a7;color:#fff;font-size:8px;font-weight:bold;text-align:center;line-height:21px;white-space:nowrap">View All Alerts</div>
</div></div>

</div></body></html>
